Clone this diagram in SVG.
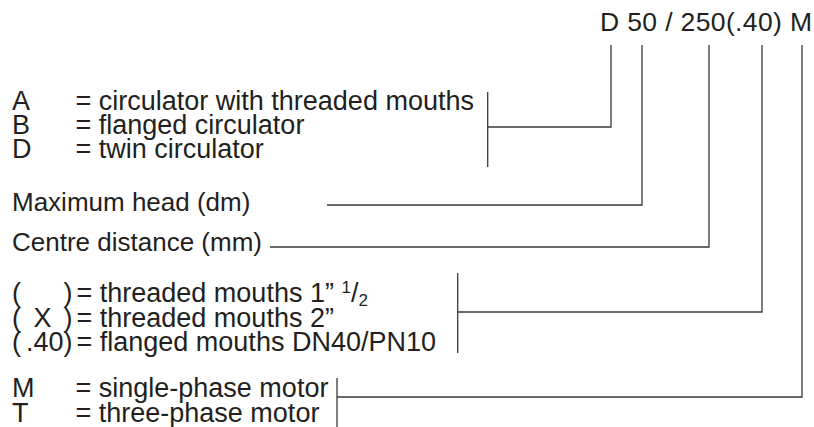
<svg xmlns="http://www.w3.org/2000/svg" width="814" height="427" viewBox="0 0 814 427">
<style>
text{font-family:"Liberation Sans",Arial,Helvetica,sans-serif;fill:#231f20}
.t{font-size:26px}
.e{font-size:27px}
.c{fill:none;stroke:#3a3a3a;stroke-width:1.3}
</style>
<rect width="814" height="427" fill="#ffffff"/>
<g id="title">
<text x="600" y="31" textLength="212" lengthAdjust="spacing" style="font-size:26.5px">D 50 / 250(.40) M</text>
</g>
<g id="connectors">
<path class="c" d="M611,45V127H487.7"/>
<path class="c" d="M487.7,92V167"/>
<path class="c" d="M642,45V205H327"/>
<path class="c" d="M709,45V247H270"/>
<path class="c" d="M762,45V312H457.7"/>
<path class="c" d="M457.7,273V353"/>
<path class="c" d="M802,45V397H337"/>
<path class="c" d="M337,378V427"/>
</g>
<g id="type">
<text class="e" x="12" y="110">A</text>
<text class="e" x="75.5" y="110">= circulator with threaded mouths</text>
<text class="e" x="12" y="134">B</text>
<text class="e" x="75.5" y="134">= flanged circulator</text>
<text class="e" x="12" y="158">D</text>
<text class="e" x="75.5" y="158">= twin circulator</text>
</g>
<g id="head">
<text class="t" x="12" y="211">Maximum head (dm)</text>
</g>
<g id="centre">
<text class="t" x="12" y="251">Centre distance (mm)</text>
</g>
<g id="mouths">
<text class="e" x="12" y="302">(</text>
<text class="e" x="63.5" y="302">)</text>
<text class="e" x="76.5" y="302">= threaded mouths 1” <tspan style="font-size:17px" dy="-9">1</tspan><tspan dy="9">/</tspan><tspan style="font-size:17px" dy="4">2</tspan></text>
<text class="e" x="12" y="327">(</text>
<text class="e" x="33.5" y="327">X</text>
<text class="e" x="63.5" y="327">)</text>
<text class="e" x="76.5" y="327">= threaded mouths 2”</text>
<text class="e" x="12" y="351">(</text>
<text class="e" x="26" y="351">.40)</text>
<text class="e" x="76.5" y="351">= flanged mouths DN40/PN10</text>
</g>
<g id="motor">
<text class="e" x="12" y="397">M</text>
<text class="e" x="75.5" y="397">= single-phase motor</text>
<text class="e" x="12" y="422">T</text>
<text class="e" x="75.5" y="422">= three-phase motor</text>
</g>
</svg>
